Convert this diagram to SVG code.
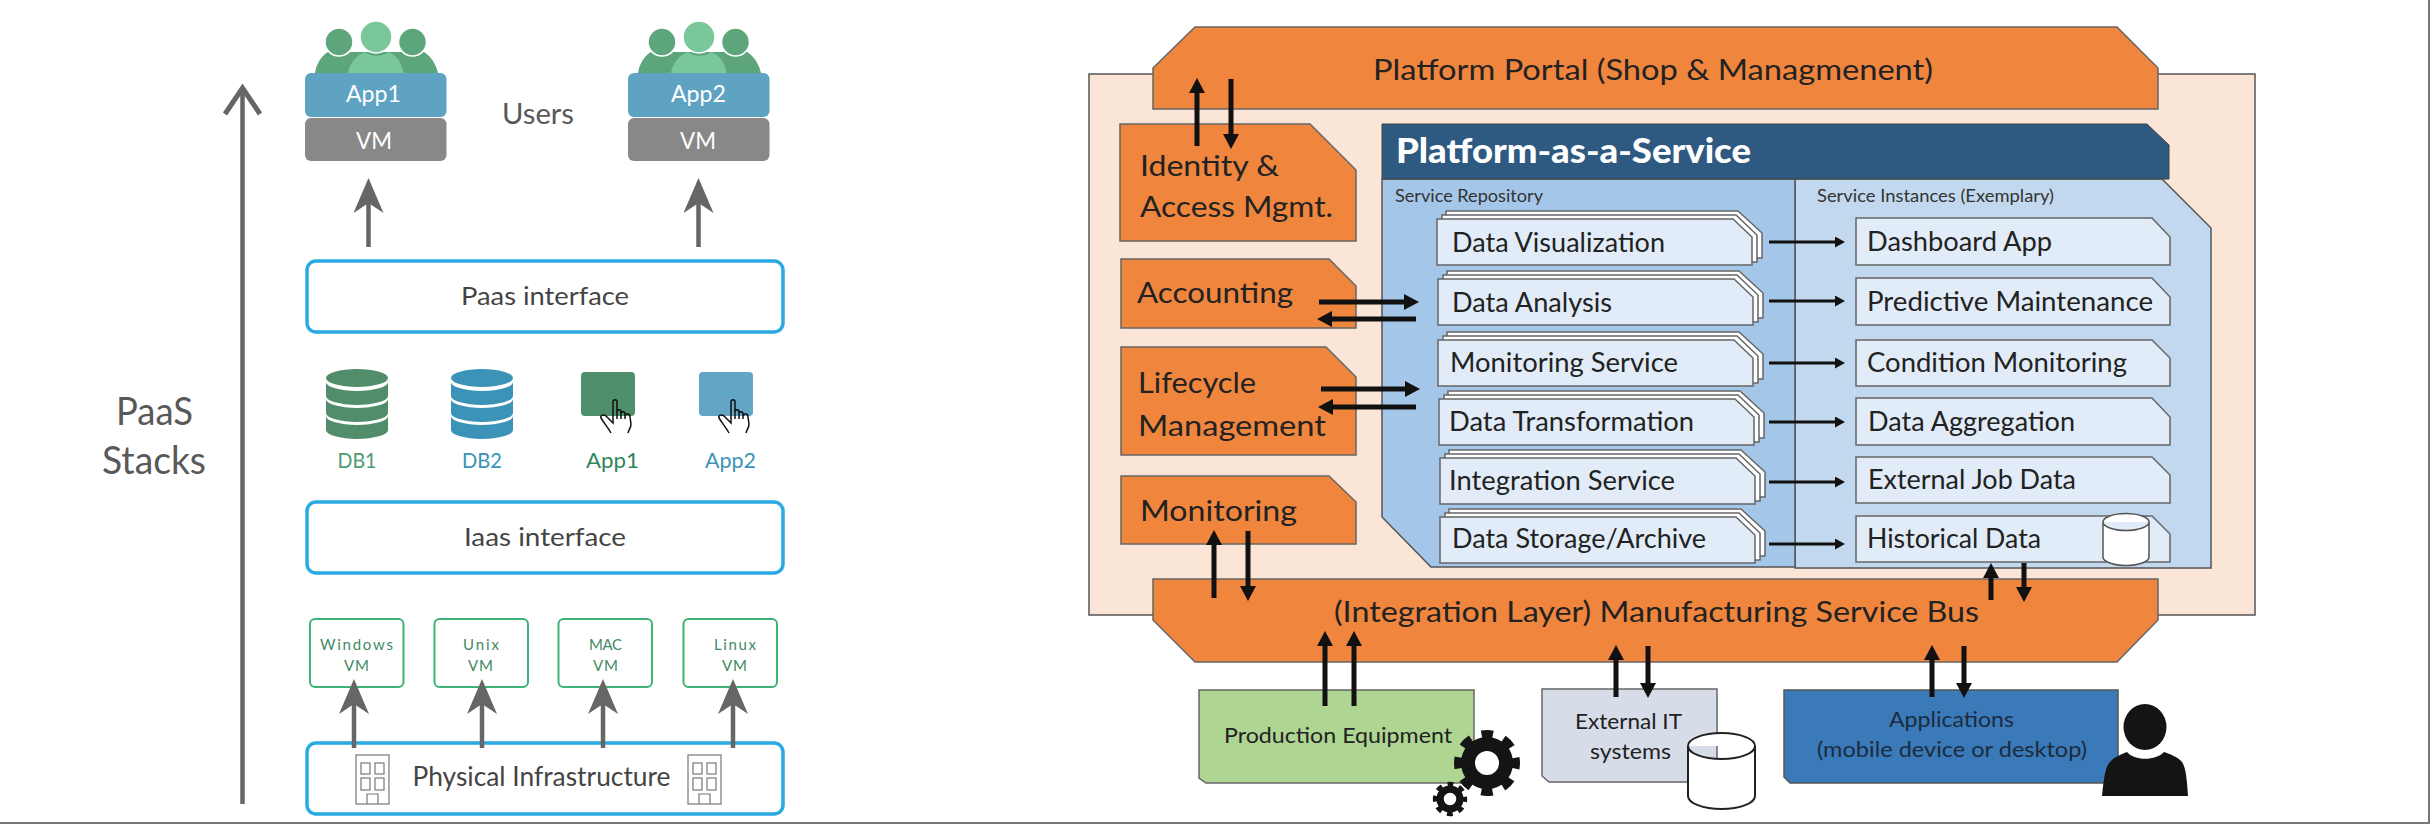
<svg xmlns="http://www.w3.org/2000/svg" xmlns:xlink="http://www.w3.org/1999/xlink" width="2430" height="824" viewBox="0 0 2430 824">
<style>
text{font-family:Lato,"Liberation Sans",sans-serif;fill:#222}
.g{fill:#595959}
.d{fill:#444}
.w{fill:#fff}
.vm{fill:#3f8a63;font-size:15px}
.blue{fill:none;stroke:#29abe2;stroke-width:3.5}
.green{fill:#fff;stroke:#3fb376;stroke-width:2}
.or{fill:#f0853d;stroke:#666;stroke-width:1.5}
.inst{fill:#e1ecf8;stroke:#666;stroke-width:1.5}
.back{fill:#fff;stroke:#666;stroke-width:1.5}
.cyl{fill:#fff;stroke:#222;stroke-width:2}
.ga{stroke:#666;stroke-width:4.5;fill:none;marker-end:url(#ag)}
.ba{stroke:#111;stroke-width:5;fill:none;marker-end:url(#ab)}
.ta{stroke:#111;stroke-width:3;fill:none;marker-end:url(#at)}
</style>
<defs>
<marker id="ag" markerUnits="userSpaceOnUse" markerWidth="36" markerHeight="30" viewBox="0 0 36 30" refX="10" refY="15" orient="auto"><path d="M0 0 L35 15 L0 30 L10 15 Z" fill="#666"/></marker>
<marker id="ab" markerUnits="userSpaceOnUse" markerWidth="16" markerHeight="16" viewBox="0 0 16 16" refX="1" refY="8" orient="auto"><path d="M0 0 L15 8 L0 16 Z" fill="#111"/></marker>
<marker id="at" markerUnits="userSpaceOnUse" markerWidth="11" markerHeight="11" viewBox="0 0 11 11" refX="1" refY="5.5" orient="auto"><path d="M0 0 L10 5.5 L0 11 Z" fill="#111"/></marker>
<g id="users">
<path d="M10 73 C12 60 20 52 29 49 C33 56 41 56 45 52 L97 52 C101 56 109 56 113 49 C122 52 130 60 133 73 Z" fill="#5da67c"/>
<circle cx="34" cy="42" r="14" fill="#5da67c" stroke="#fff" stroke-width="1.500"/><circle cx="107.500" cy="42" r="14" fill="#5da67c" stroke="#fff" stroke-width="1.500"/>
<path d="M43 73 C45 62 52 55 60 52 C65 57 78 57 83 52 C91 55 97 62 98.500 73 Z" fill="#7ac89a"/>
<circle cx="71" cy="37" r="16" fill="#7ac89a" stroke="#fff" stroke-width="1.500"/>
</g>
<g id="dbstack">
<ellipse cx="0" cy="378" rx="31" ry="9"/>
<path d="M-31 382 A31 9 0 0 0 31 382 V396 A31 9 0 0 1 -31 396 Z"/>
<path d="M-31 399 A31 9 0 0 0 31 399 V413 A31 9 0 0 1 -31 413 Z"/>
<path d="M-31 416 A31 9 0 0 0 31 416 V430 A31 9 0 0 1 -31 430 Z"/>
</g>
<path id="hand" d="M12 3 C12 0 16 0 16 3 L16 13 C16 10 20 10 20 13 L20 15 C20 12 24 12 24 15 L24 17 C25 14 29 14 29 18 L30 25 C30 29 28 30 27 34 M10 34 C8 30 3 24 0 19 C-1 16 3 15 5 17 L12 24 V3 M16 13 V20 M20 15 V20 M24 17 V20" fill="none" stroke="#111" stroke-width="1.500"/>
<g id="building" fill="none" stroke="#777" stroke-width="1.200">
<rect x="0" y="0" width="33" height="49"/>
<rect x="5" y="8" width="9" height="11"/><rect x="19" y="8" width="9" height="11"/>
<rect x="5" y="23" width="9" height="12"/><rect x="19" y="23" width="9" height="12"/>
<path d="M11 49 V39 H22 V49"/>
</g>
<g id="stack">
<polygon class="back" points="9,-8 301,-8 325,14 325,39 9,39"/>
<polygon class="back" points="5,-4 299,-4 320,16 320,43 5,43"/>
<polygon class="inst" points="0,0 296,0 315,18 315,46 0,46"/>
</g>
<g id="gear">
<circle r="19" fill="none" stroke="#141414" stroke-width="14"/>
<circle r="29" fill="none" stroke="#141414" stroke-width="8" stroke-dasharray="11.390 11.390" stroke-dashoffset="5.700"/>
</g>
</defs>
<rect width="2430" height="824" fill="#fff"/>

<g id="frame"><path d="M0 823 H2429 V0" fill="none" stroke="#777" stroke-width="2"/></g>

<!-- left: PaaS stacks -->
<g id="paas-label"><text class="g" x="116" y="425" font-size="38" textLength="77" lengthAdjust="spacingAndGlyphs">PaaS</text><text class="g" x="102" y="474" font-size="38" textLength="104" lengthAdjust="spacingAndGlyphs">Stacks</text></g>
<g id="users-label"><text class="g" x="502" y="124" font-size="28" textLength="72" lengthAdjust="spacingAndGlyphs">Users</text></g>
<g id="stack1"><use xlink:href="#users" href="#users" x="305"/>
<rect x="305" y="73" width="141.500" height="44" rx="6" fill="#5fa3c3"/><rect x="305" y="118" width="141.500" height="43" rx="6" fill="#888"/>
<text class="w" x="346" y="102" font-size="23" textLength="55" lengthAdjust="spacingAndGlyphs">App1</text><text class="w" x="356" y="149" font-size="23" textLength="36" lengthAdjust="spacingAndGlyphs">VM</text></g>
<g id="stack2"><use xlink:href="#users" href="#users" x="628"/>
<rect x="628" y="73" width="141.500" height="44" rx="6" fill="#5fa3c3"/><rect x="628" y="118" width="141.500" height="43" rx="6" fill="#888"/>
<text class="w" x="671" y="102" font-size="23" textLength="55" lengthAdjust="spacingAndGlyphs">App2</text><text class="w" x="680" y="149" font-size="23" textLength="36" lengthAdjust="spacingAndGlyphs">VM</text></g>
<g id="paas-interface"><rect class="blue" x="307" y="261" width="476" height="71" rx="9"/><text class="d" x="461" y="305" font-size="25" textLength="168" lengthAdjust="spacingAndGlyphs">Paas interface</text></g>
<g id="db1"><use xlink:href="#dbstack" href="#dbstack" x="357" fill="#518d6a"/><text x="337.500" y="468" font-size="21" textLength="39" lengthAdjust="spacingAndGlyphs" style="fill:#4e9a72">DB1</text></g>
<g id="db2"><use xlink:href="#dbstack" href="#dbstack" x="482" fill="#3b93b8"/><text x="462" y="468" font-size="21" textLength="40" lengthAdjust="spacingAndGlyphs" style="fill:#3b93b8">DB2</text></g>
<g id="app1-icon"><rect x="581" y="372" width="54" height="44" rx="4" fill="#4f8f6b"/><use xlink:href="#hand" href="#hand" x="601" y="399"/><text x="586" y="468" font-size="21" textLength="53" lengthAdjust="spacingAndGlyphs" style="fill:#2f8557">App1</text></g>
<g id="app2-icon"><rect x="699" y="372" width="54" height="44" rx="4" fill="#62a5c4"/><use xlink:href="#hand" href="#hand" x="719" y="399"/><text x="705" y="468" font-size="21" textLength="51" lengthAdjust="spacingAndGlyphs" style="fill:#3b93b8">App2</text></g>
<g id="iaas-interface"><rect class="blue" x="307" y="502" width="476" height="71" rx="9"/><text class="d" x="464" y="546" font-size="25" textLength="162" lengthAdjust="spacingAndGlyphs">Iaas interface</text></g>
<g id="vm-windows"><rect class="green" x="310" y="619" width="93.500" height="68" rx="5"/><text class="vm" x="320" y="650" textLength="73">Windows</text><text class="vm" x="344" y="671" textLength="25">VM</text></g>
<g id="vm-unix"><rect class="green" x="434.500" y="619" width="93.500" height="68" rx="5"/><text class="vm" x="463" y="650" textLength="36">Unix</text><text class="vm" x="468" y="671" textLength="25">VM</text></g>
<g id="vm-mac"><rect class="green" x="558.500" y="619" width="93.500" height="68" rx="5"/><text class="vm" x="589" y="650" textLength="33">MAC</text><text class="vm" x="593" y="671" textLength="25">VM</text></g>
<g id="vm-linux"><rect class="green" x="683.500" y="619" width="93.500" height="68" rx="5"/><text class="vm" x="714" y="650" textLength="42">Linux</text><text class="vm" x="722" y="671" textLength="25">VM</text></g>
<g id="physical"><rect class="blue" x="307" y="743" width="476" height="71" rx="9"/><use xlink:href="#building" href="#building" x="356" y="755"/><use xlink:href="#building" href="#building" x="688" y="755"/><text class="d" x="412.500" y="786" font-size="26" textLength="258" lengthAdjust="spacingAndGlyphs">Physical Infrastructure</text></g>

<!-- right: platform -->
<g id="platform-bg"><rect x="1089" y="74" width="1166" height="541" fill="#fbe5d6" stroke="#555" stroke-width="1.500"/></g>
<g id="portal"><polygon class="or" points="1153,68 1195,27 2117,27 2158,68 2158,109 1153,109"/><text x="1373" y="80" font-size="29" textLength="560" lengthAdjust="spacingAndGlyphs">Platform Portal (Shop &amp; Managmenent)</text></g>
<g id="iam"><polygon class="or" points="1120,124 1310,124 1356,170 1356,241 1120,241"/><text x="1140" y="176" font-size="29" textLength="139" lengthAdjust="spacingAndGlyphs">Identity &amp;</text><text x="1140" y="217" font-size="29" textLength="193" lengthAdjust="spacingAndGlyphs">Access Mgmt.</text></g>
<g id="accounting"><polygon class="or" points="1121,259 1329,259 1356,286 1356,328 1121,328"/><text x="1137" y="303" font-size="29" textLength="156" lengthAdjust="spacingAndGlyphs">Accounting</text></g>
<g id="lifecycle"><polygon class="or" points="1121,347 1326,347 1356,377 1356,455 1121,455"/><text x="1138" y="393" font-size="29" textLength="118" lengthAdjust="spacingAndGlyphs">Lifecycle</text><text x="1138" y="436" font-size="29" textLength="188" lengthAdjust="spacingAndGlyphs">Management</text></g>
<g id="monitoring"><polygon class="or" points="1121,476 1329,476 1356,502 1356,544 1121,544"/><text x="1140" y="521" font-size="29" textLength="157" lengthAdjust="spacingAndGlyphs">Monitoring</text></g>
<g id="bus"><polygon class="or" points="1153,579 2158,579 2158,620 2117,662 1195,662 1153,620"/><text x="1334" y="622" font-size="29" textLength="645" lengthAdjust="spacingAndGlyphs">(Integration Layer) Manufacturing Service Bus</text></g>

<g id="service-instances-panel"><polygon points="1795,179 2162,179 2211,228 2211,568 1795,568" fill="#c2d8ee" stroke="#555" stroke-width="1.500"/><text x="1817" y="202" font-size="16.500" textLength="237" lengthAdjust="spacingAndGlyphs" style="fill:#333">Service Instances (Exemplary)</text></g>
<g id="service-repository-panel"><polygon points="1382,179 1795,179 1795,567 1431,567 1382,517" fill="#a4c6e9" stroke="#555" stroke-width="1.500"/><text x="1395" y="202" font-size="16.500" textLength="148" lengthAdjust="spacingAndGlyphs" style="fill:#333">Service Repository</text></g>
<g id="paas-header"><polygon points="1382,124 2147,124 2169,145 2169,179 1382,179" fill="#2e5a82" stroke="#444" stroke-width="1"/><text class="w" x="1396" y="163" font-size="34" font-weight="900" textLength="355" lengthAdjust="spacingAndGlyphs">Platform-as-a-Service</text></g>

<g id="svc-visualization"><use xlink:href="#stack" href="#stack" transform="translate(1437,219)"/><text x="1452" y="252" font-size="27" textLength="213" lengthAdjust="spacingAndGlyphs">Data Visualization</text></g>
<g id="svc-analysis"><use xlink:href="#stack" href="#stack" transform="translate(1438,279)"/><text x="1452" y="312" font-size="27" textLength="160" lengthAdjust="spacingAndGlyphs">Data Analysis</text></g>
<g id="svc-monitoring"><use xlink:href="#stack" href="#stack" transform="translate(1438,340)"/><text x="1450" y="372" font-size="27" textLength="228" lengthAdjust="spacingAndGlyphs">Monitoring Service</text></g>
<g id="svc-transformation"><use xlink:href="#stack" href="#stack" transform="translate(1439,399)"/><text x="1449" y="431" font-size="27" textLength="245" lengthAdjust="spacingAndGlyphs">Data Transformation</text></g>
<g id="svc-integration"><use xlink:href="#stack" href="#stack" transform="translate(1440,458)"/><text x="1449" y="490" font-size="27" textLength="226" lengthAdjust="spacingAndGlyphs">Integration Service</text></g>
<g id="svc-storage"><use xlink:href="#stack" href="#stack" transform="translate(1440,517)"/><text x="1452" y="548" font-size="27" textLength="254" lengthAdjust="spacingAndGlyphs">Data Storage/Archive</text></g>

<g id="inst-dashboard"><polygon class="inst" points="1856,218 2152,218 2170,237 2170,265 1856,265"/><text x="1867" y="251" font-size="27" textLength="185" lengthAdjust="spacingAndGlyphs">Dashboard App</text></g>
<g id="inst-predictive"><polygon class="inst" points="1856,278 2152,278 2170,297 2170,325 1856,325"/><text x="1867" y="311" font-size="27" textLength="286" lengthAdjust="spacingAndGlyphs">Predictive Maintenance</text></g>
<g id="inst-condition"><polygon class="inst" points="1856,340 2152,340 2170,358 2170,386 1856,386"/><text x="1867" y="372" font-size="27" textLength="260" lengthAdjust="spacingAndGlyphs">Condition Monitoring</text></g>
<g id="inst-aggregation"><polygon class="inst" points="1856,398 2152,398 2170,417 2170,445 1856,445"/><text x="1868" y="431" font-size="27" textLength="207" lengthAdjust="spacingAndGlyphs">Data Aggregation</text></g>
<g id="inst-external"><polygon class="inst" points="1856,457 2152,457 2170,475 2170,503 1856,503"/><text x="1868" y="489" font-size="27" textLength="208" lengthAdjust="spacingAndGlyphs">External Job Data</text></g>
<g id="inst-historical"><polygon class="inst" points="1856,516 2152,516 2170,534 2170,562 1856,562"/><text x="1867" y="548" font-size="27" textLength="174" lengthAdjust="spacingAndGlyphs">Historical Data</text>
<path class="cyl" style="stroke:#555;stroke-width:1.500" d="M2103 522 A23 8.500 0 0 1 2149 522 V557 A23 8.500 0 0 1 2103 557 Z M2103 522 A23 8.500 0 0 0 2149 522"/></g>

<g id="production"><polygon points="1199,690 1474,690 1474,783 1206,783 1199,778" fill="#aed591" stroke="#666" stroke-width="1.500"/><text x="1224" y="743" font-size="22" textLength="228" lengthAdjust="spacingAndGlyphs">Production Equipment</text>
<use xlink:href="#gear" href="#gear" transform="translate(1487,763)"/><use xlink:href="#gear" href="#gear" transform="translate(1450,799) scale(.52)"/></g>
<g id="external-it"><polygon points="1542,689 1717,689 1717,782 1549,782 1542,776" fill="#d6dce8" stroke="#666" stroke-width="1.500"/><text x="1575" y="729" font-size="22" textLength="107" lengthAdjust="spacingAndGlyphs">External IT</text><text x="1590" y="759" font-size="22" textLength="81" lengthAdjust="spacingAndGlyphs">systems</text>
<path class="cyl" d="M1688 746 A33.500 13 0 0 1 1755 746 V796 A33.500 13 0 0 1 1688 796 Z M1688 746 A33.500 13 0 0 0 1755 746"/></g>
<g id="applications"><polygon points="1784,690 2118,690 2118,783 1790,783 1784,777" fill="#3a7ab8" stroke="#555" stroke-width="1.500"/><text x="1889" y="727" font-size="22" textLength="125" lengthAdjust="spacingAndGlyphs" style="fill:#1c2b40">Applications</text><text x="1817" y="757" font-size="22" textLength="270" lengthAdjust="spacingAndGlyphs" style="fill:#1c2b40">(mobile device or desktop)</text>
<ellipse cx="2145" cy="727" rx="21.500" ry="23" fill="#141414"/><path d="M2102 796 C2104 778 2105 767 2110 762 C2114 757 2122 754 2127 752 C2134 761 2156 761 2164 752 C2170 754 2178 757 2182 762 C2186 768 2187 780 2188 796 Z" fill="#141414"/></g>

<g id="connectors">
<line x1="242.500" y1="804" x2="242.500" y2="90" stroke="#666" stroke-width="4.500"/>
<path d="M225 114 L242.500 88 L260 114" fill="none" stroke="#666" stroke-width="5"/>
<path class="ga" d="M368.500 247 V203"/><path class="ga" d="M698.500 247 V203"/>
<path class="ga" d="M354 748 V704"/><path class="ga" d="M482 748 V704"/><path class="ga" d="M603 748 V704"/><path class="ga" d="M733 748 V704"/>
<path class="ba" d="M1197 146 V92"/><path class="ba" d="M1231 79 V135"/>
<path class="ba" d="M1319 302 H1405"/><path class="ba" d="M1416 319 H1331"/>
<path class="ba" d="M1321 389 H1406"/><path class="ba" d="M1416 407 H1332"/>
<path class="ba" d="M1214 598 V544"/><path class="ba" d="M1248 531 V587"/>
<path class="ba" d="M1991 600 V577"/><path class="ba" d="M2024 563 V588"/>
<path class="ba" d="M1325 706 V645"/><path class="ba" d="M1354 706 V645"/>
<path class="ba" d="M1616 697 V659"/><path class="ba" d="M1648 646 V684"/>
<path class="ba" d="M1932 697 V659"/><path class="ba" d="M1964 646 V684"/>
<path class="ta" d="M1769 242 H1836"/><path class="ta" d="M1769 301 H1836"/><path class="ta" d="M1769 363 H1836"/><path class="ta" d="M1769 422 H1836"/><path class="ta" d="M1769 482 H1836"/><path class="ta" d="M1769 544 H1836"/>
</g>
</svg>
